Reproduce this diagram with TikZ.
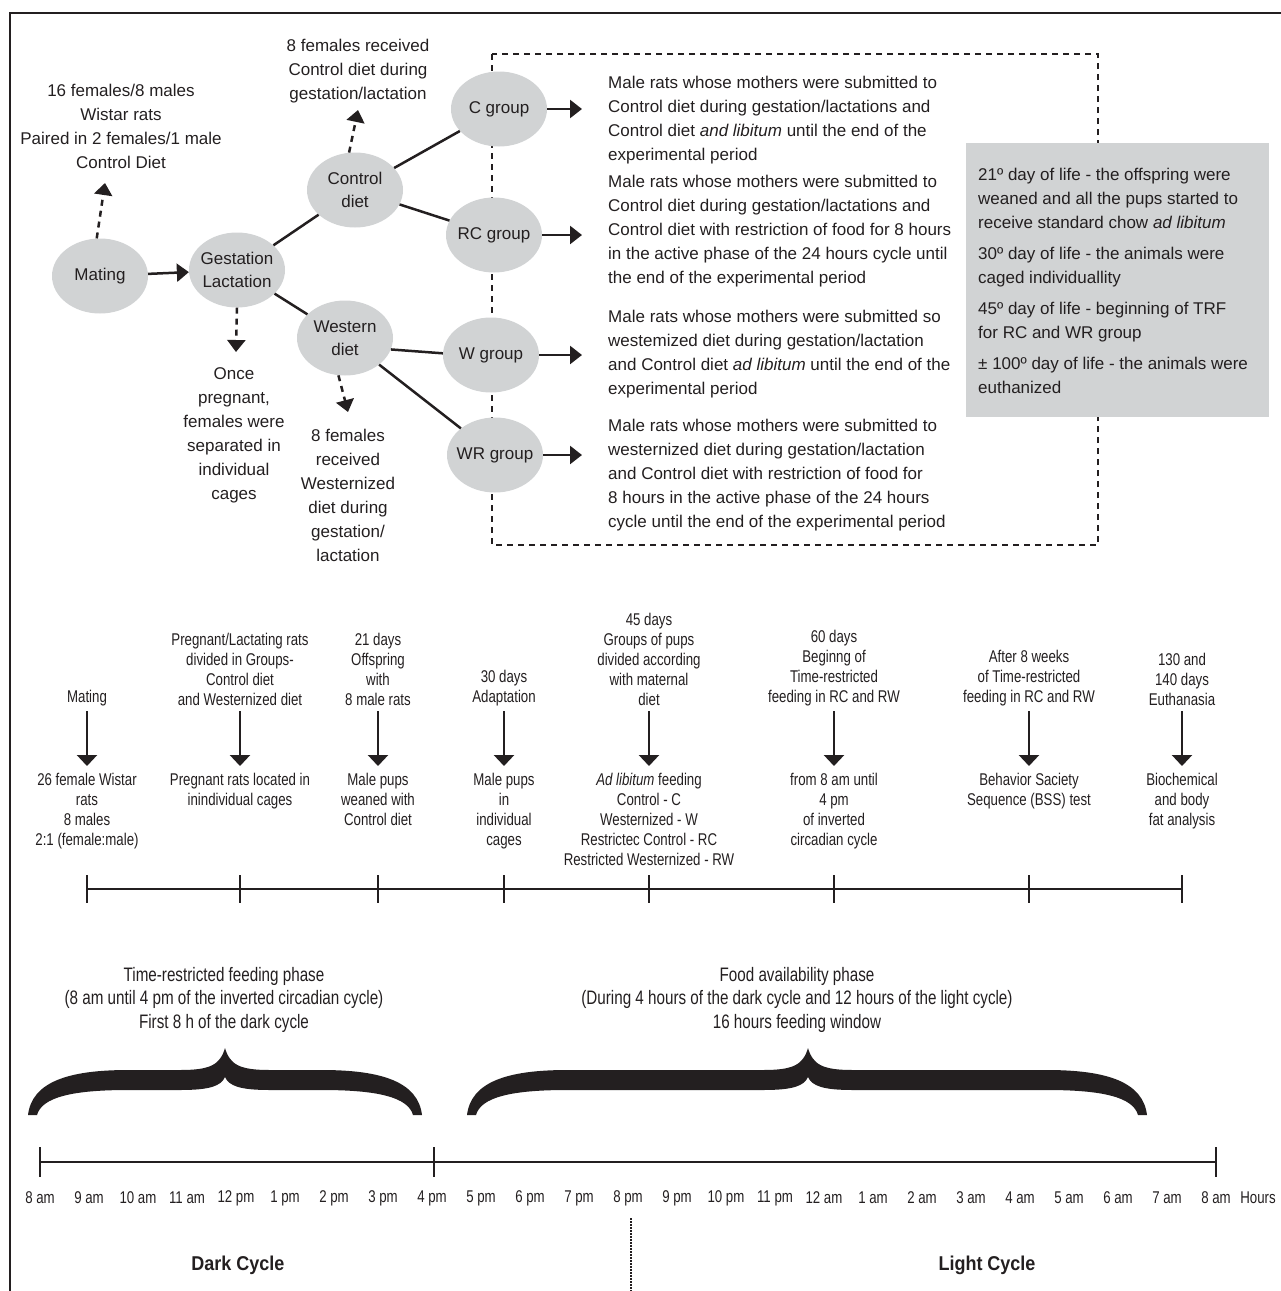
\documentclass[tikz,border=0pt]{standalone}
\usepackage{fontspec}
\setmainfont{Liberation Sans}
\newfontfamily\condfont[FakeStretch=0.78]{Liberation Sans}
\newfontfamily\cycfont[FakeStretch=0.9]{Liberation Sans}
\usepackage{xcolor}
\usepackage{tikz}
\usetikzlibrary{arrows.meta}
\usetikzlibrary{shapes.geometric}

\definecolor{ink}{HTML}{231F20}
\definecolor{greyfill}{HTML}{D1D3D4}

\tikzset{
  frame/.style={line width=2.5pt},
  link/.style={line width=2.5pt},
  bubble/.style={ellipse, fill=greyfill, minimum width=96pt, minimum height=75pt,
    inner xsep=-5pt, inner ysep=0pt, align=center, font=\fontsize{17}{23}\selectfont},
  note/.style={inner sep=0pt, align=center, anchor=north, font=\fontsize{17}{24}\selectfont},
  desc/.style={inner sep=0pt, align=left, anchor=north west, font=\fontsize{17}{24}\selectfont},
  arr/.style={line width=2.5pt, -{Triangle[length=12pt,width=18pt]}},
  dasharr/.style={arr, dash pattern=on 6pt off 5pt},
  boxdash/.style={line width=2.5pt, dash pattern=on 6pt off 5pt},
  tup/.style={inner sep=0pt, align=center, anchor=south, font=\condfont\fontsize{17}{20}\selectfont},
  tlo/.style={inner sep=0pt, align=center, anchor=north, font=\condfont\fontsize{17}{20}\selectfont},
  tarr/.style={line width=2.5pt, -{Triangle[length=11pt,width=20pt]}, shorten <=5pt, shorten >=7pt},
  phase/.style={inner sep=0pt, align=center, anchor=north, font=\condfont\fontsize{19.5}{23.5}\selectfont},
  hour/.style={inner sep=0pt, font=\condfont\fontsize{17}{20}\selectfont},
  cyc/.style={inner sep=0pt, font=\cycfont\bfseries\fontsize{20}{24}\selectfont},
  dots/.style={line width=2.5pt, dash pattern=on 1.5pt off 1.5pt}
}

% thick curly brace: left end, tip, right end
\newcommand{\phasebrace}[3]{%
  \fill (#1,1115) .. controls ({#1+4},1082) and ({#1+40},1070) .. ({#1+100},1070)
    -- ({#2-45},1070) .. controls ({#2-15},1070) and ({#2-5},1065) .. (#2,1048)
    .. controls ({#2+5},1065) and ({#2+15},1070) .. ({#2+45},1070)
    -- ({#3-100},1070) .. controls ({#3-40},1070) and ({#3-4},1082) .. (#3,1115)
    -- ({#3-9},1115) .. controls ({#3-14},1097) and ({#3-45},1090) .. ({#3-100},1090)
    -- ({#2+45},1090) .. controls ({#2+15},1090) and ({#2+4},1086) .. (#2,1077)
    .. controls ({#2-4},1086) and ({#2-15},1090) .. ({#2-45},1090)
    -- ({#1+100},1090) .. controls ({#1+45},1090) and ({#1+14},1097) .. ({#1+9},1115)
    -- cycle;}

\begin{document}
\begin{tikzpicture}[x=1pt, y=-1pt, color=ink]
        \def\tl{889}
        \def\ax{1162}
        \useasboundingbox (0,0) rectangle (1281,1291);

        % Frame
        \draw[frame] (10,1291) -- (10,13) -- (1281,13);

        % Boxes
        \draw[boxdash] (492,54) rectangle (1098,545);
        \fill[greyfill] (966,143) rectangle (1269,417);

        % Diet groups
        \node[bubble] (mating) at (100,276) {Mating};
        \node[bubble] (gest) at (237,270) {Gestation\\Lactation};
        \node[bubble] (ctrl) at (355,190) {Control\\diet};
        \node[bubble] (west) at (345,338) {Western\\diet};
        \node[bubble] (cg) at (499,109) {C group};
        \node[bubble] (rc) at (494,235) {RC group};
        \node[bubble] (wg) at (491,355) {W group};
        \node[bubble] (wr) at (495,455) {WR group};

        \draw[arr] (mating) -- (gest);
        \draw[link] (gest) -- (ctrl);
        \draw[link] (gest) -- (west);
        \draw[link] (ctrl) -- (cg);
        \draw[link] (ctrl) -- (rc);
        \draw[link] (west.-14) -- (wg.178);
        \draw[link] (west) -- (wr);

        % Notes
        \node[note] (pairs) at (121,84) {16 females/8 males\\Wistar rats\\Paired in 2 females/1 male\\Control Diet};
        \node[note] (ctrlnote) at (358,39) {8 females received\\Control diet during\\gestation/lactation};
        \node[note] (cagenote) at (234,367) {Once\\pregnant,\\females were\\separated in\\individual\\cages};
        \node[note] (westnote) at (348,429) {8 females\\received\\Westernized\\diet during\\gestation/\\lactation};

        \coordinate (matingtip) at (105,183);
        \coordinate (ctrltip) at (358,110);
        \coordinate (gesttip) at (236,352);
        \coordinate (westtip) at (348,412);
        \draw[dasharr] (mating.95) -- (matingtip);
        \draw[dasharr] (ctrl.99) -- (ctrltip);
        \draw[dasharr] (gest.south) -- (gesttip);
        \draw[dasharr] (west.-100) -- (westtip);

        % Group descriptions
        \node[desc] (ctext) at (608,76) {Male rats whose mothers were submitted to\\Control diet during gestation/lactations and\\Control diet \textit{and libitum} until the end of the\\experimental period};
        \node[desc] (rctext) at (608,175) {Male rats whose mothers were submitted to\\Control diet during gestation/lactations and\\Control diet with restriction of food for 8 hours\\in the active phase of the 24 hours cycle until\\the end of the experimental period};
        \node[desc] (wtext) at (608,310) {Male rats whose mothers were submitted so\\westemized diet during gestation/lactation\\and Control diet \textit{ad libitum} until the end of the\\experimental period};
        \node[desc] (wrtext) at (608,419) {Male rats whose mothers were submitted to\\westernized diet during gestation/lactation\\and Control diet with restriction of food for\\8 hours in the active phase of the 24 hours\\cycle until the end of the experimental period};

        \draw[arr, shorten >=26pt] (cg) -- (cg -| ctext.west);
        \draw[arr, shorten >=26pt] (rc) -- (rc -| rctext.west);
        \draw[arr, shorten >=26pt] (wg) -- (wg -| wtext.west);
        \draw[arr, shorten >=26pt] (wr) -- (wr -| wrtext.west);

        \node[desc] (days) at (978,168) {21º day of life - the offspring were\\weaned and all the pups started to\\receive standard chow \textit{ad libitum}\\[7pt]30º day of life - the animals were\\caged individuallity\\[7pt]45º day of life - beginning of TRF\\for RC and WR group\\[7pt]± 100º day of life - the animals were\\euthanized};

        % Timeline
        \draw[link] (87,\tl) -- (1182,\tl);
        \foreach \x in {87,240,378,504,649,834,1029,1182}
            \draw[link] (\x,\tl-14) -- (\x,\tl+14);

        \node[tup] (up1) at (87,706) {Mating};
        \node[tup] (up2) at (240,706) {Pregnant/Lactating rats\\divided in Groups-\\Control diet\\and Westernized diet};
        \node[tup] (up3) at (378,706) {21 days\\Offspring\\with\\8 male rats};
        \node[tup] (up4) at (504,706) {30 days\\Adaptation};
        \node[tup] (up5) at (649,706) {45 days\\Groups of pups\\divided according\\with maternal\\diet};
        \node[tup] (up6) at (834,706) {60 days\\Beginng of\\Time-restricted\\feeding in RC and RW};
        \node[tup] (up7) at (1029,706) {After 8 weeks\\of Time-restricted\\feeding in RC and RW};
        \node[tup] (up8) at (1182,706) {130 and\\140 days\\Euthanasia};

        \node[tlo] (lo1) at (87,773) {26 female Wistar\\rats\\8 males\\2:1 (female:male)};
        \node[tlo] (lo2) at (240,773) {Pregnant rats located in\\inindividual cages};
        \node[tlo] (lo3) at (378,773) {Male pups\\weaned with\\Control diet};
        \node[tlo] (lo4) at (504,773) {Male pups\\in\\individual\\cages};
        \node[tlo] (lo5) at (649,773) {\textit{Ad libitum} feeding\\Control - C\\Westernized - W\\Restrictec Control - RC\\Restricted Westernized - RW};
        \node[tlo] (lo6) at (834,773) {from 8 am until\\4 pm\\of inverted\\circadian cycle};
        \node[tlo] (lo7) at (1029,773) {Behavior Saciety\\Sequence (BSS) test};
        \node[tlo] (lo8) at (1182,773) {Biochemical\\and body\\fat analysis};

        \foreach \n in {1,...,8}
            \draw[tarr] (up\n) -- (lo\n);

        % Feeding phases
        \node[phase] (ph1) at (224,967) {Time-restricted feeding phase\\(8 am until 4 pm of the inverted circadian cycle)\\First 8 h of the dark cycle};
        \node[phase] (ph2) at (797,967) {Food availability phase\\(During 4 hours of the dark cycle and 12 hours of the light cycle)\\16 hours feeding window};
        \phasebrace{28}{225}{422}
        \phasebrace{467}{808}{1147}

        % Hours axis
        \draw[link] (40,\ax) -- (1216,\ax);
        \foreach \x in {40,434,1216}
            \draw[link] (\x,\ax-15) -- (\x,\ax+15);
        \foreach \lab [count=\i from 0] in {8 am,9 am,10 am,11 am,12 pm,1 pm,2 pm,3 pm,4 pm,5 pm,6 pm,7 pm,8 pm,9 pm,10 pm,11 pm,12 am,1 am,2 am,3 am,4 am,5 am,6 am,7 am,8 am}
            \node[hour] (h\i) at ({40+49*\i},1198) {\lab};
        \node[hour] (hrs) at (1258,1198) {Hours};

        \draw[dots] (631,1218) -- (631,1291);
        \node[cyc] (dark) at (238,1265) {Dark Cycle};
        \node[cyc] (light) at (987,1265) {Light Cycle};
\end{tikzpicture}
\end{document}
